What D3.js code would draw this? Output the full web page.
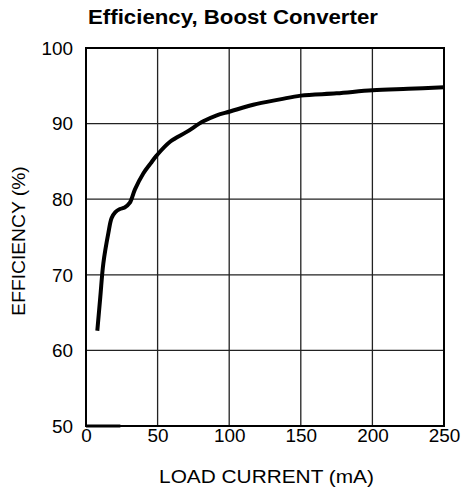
<!DOCTYPE html>
<html>
<head>
<meta charset="utf-8">
<script src="https://cdn.jsdelivr.net/npm/d3@7"></script>
<style>
  html, body { margin: 0; padding: 0; background: #fff; }
  svg { display: block; }
  text { font-family: "Liberation Sans", Arial, Helvetica, sans-serif; fill: #000; }
</style>
</head>
<body>
<svg id="chart" width="464" height="503"></svg>
<script>
const title = "Efficiency, Boost Converter";
const xTitle = "LOAD CURRENT (mA)";
const yTitle = "EFFICIENCY (%)";
const xTicks = [0, 50, 100, 150, 200, 250];
const yTicks = [50, 60, 70, 80, 90, 100];
const loadCurrent = [7.9, 10, 12.1, 15.6, 17.9, 20.5, 23.7, 27, 30.5, 34.2, 40, 45, 49.4, 58.7, 70.3, 81.9, 91.3, 100.6, 116.8, 135.5, 150, 175, 200, 225, 250];
const efficiency  = [62.6, 67.1, 71.5, 75.5, 77.5, 78.3, 78.7, 78.9, 79.5, 81.3, 83.4, 84.7, 85.8, 87.6, 88.9, 90.3, 91.1, 91.6, 92.5, 93.2, 93.7, 94.0, 94.4, 94.6, 94.8];
const baseLoad = [0, 24];
const baseEff = [50, 50];

const svg = d3.select("#chart");
const m = { left: 86, right: 444, top: 48, bottom: 426 };
const x = d3.scaleLinear().domain([0, 250]).range([m.left, m.right]);
const y = d3.scaleLinear().domain([50, 100]).range([m.bottom, m.top]);

function stretch(sel, k) {
  sel.each(function () {
    const w = this.getComputedTextLength();
    d3.select(this).attr("textLength", w * k).attr("lengthAdjust", "spacingAndGlyphs");
  });
}

// grid
svg.append("g").selectAll("line").data(xTicks.slice(1, -1)).join("line")
  .attr("x1", d => x(d)).attr("x2", d => x(d))
  .attr("y1", m.top).attr("y2", m.bottom)
  .attr("stroke", "#222").attr("stroke-width", 1.3);
svg.append("g").selectAll("line").data(yTicks.slice(1, -1)).join("line")
  .attr("y1", d => y(d)).attr("y2", d => y(d))
  .attr("x1", m.left).attr("x2", m.right)
  .attr("stroke", "#222").attr("stroke-width", 1.3);

// frame
svg.append("rect").attr("x", m.left).attr("y", m.top)
  .attr("width", m.right - m.left).attr("height", m.bottom - m.top)
  .attr("fill", "none").attr("stroke", "#000").attr("stroke-width", 2);

// axes labels
const xAxis = d3.axisBottom(x).tickValues(xTicks).tickSize(0).tickPadding(0).tickFormat(d3.format("d"));
const gx = svg.append("g").attr("transform", `translate(0,${m.bottom})`).call(xAxis);
gx.select(".domain").remove();
gx.selectAll("text").attr("font-size", 17.5).attr("dy", null).attr("y", 16)
  .attr("font-family", '"Liberation Sans", Arial, sans-serif').attr("fill", "#000")
  .call(stretch, 1.08);

const yAxis = d3.axisLeft(y).tickValues(yTicks).tickSize(0).tickPadding(0).tickFormat(d3.format("d"));
const gy = svg.append("g").attr("transform", `translate(${m.left},0)`).call(yAxis);
gy.select(".domain").remove();
gy.selectAll("text").attr("font-size", 17.5).attr("x", -13).attr("dy", "0.36em")
  .attr("font-family", '"Liberation Sans", Arial, sans-serif').attr("fill", "#000")
  .call(stretch, 1.08);

// curve
const line = d3.line().x(d => x(d[0])).y(d => y(d[1])).curve(d3.curveCatmullRom.alpha(0.5));
svg.append("path").datum(loadCurrent.map((v, i) => [v, efficiency[i]]))
  .attr("d", line).attr("fill", "none").attr("stroke", "#000")
  .attr("stroke-width", 4).attr("stroke-linejoin", "round");
svg.append("path").datum(baseLoad.map((v, i) => [v, baseEff[i]]))
  .attr("d", d3.line().x(d => x(d[0])).y(d => y(d[1])))
  .attr("fill", "none").attr("stroke", "#000").attr("stroke-width", 3);

// titles
svg.append("text").attr("x", 233).attr("y", 24).attr("text-anchor", "middle")
  .attr("font-size", 19.5).attr("font-weight", "bold").text(title).call(stretch, 1.14);
svg.append("text").attr("x", 266.5).attr("y", 483).attr("text-anchor", "middle")
  .attr("font-size", 17.5).text(xTitle).call(stretch, 1.19);
svg.append("text").attr("transform", `translate(25,241) rotate(-90)`)
  .attr("text-anchor", "middle").attr("font-size", 17.5).text(yTitle).call(stretch, 1.1);
</script>
</body>
</html>
